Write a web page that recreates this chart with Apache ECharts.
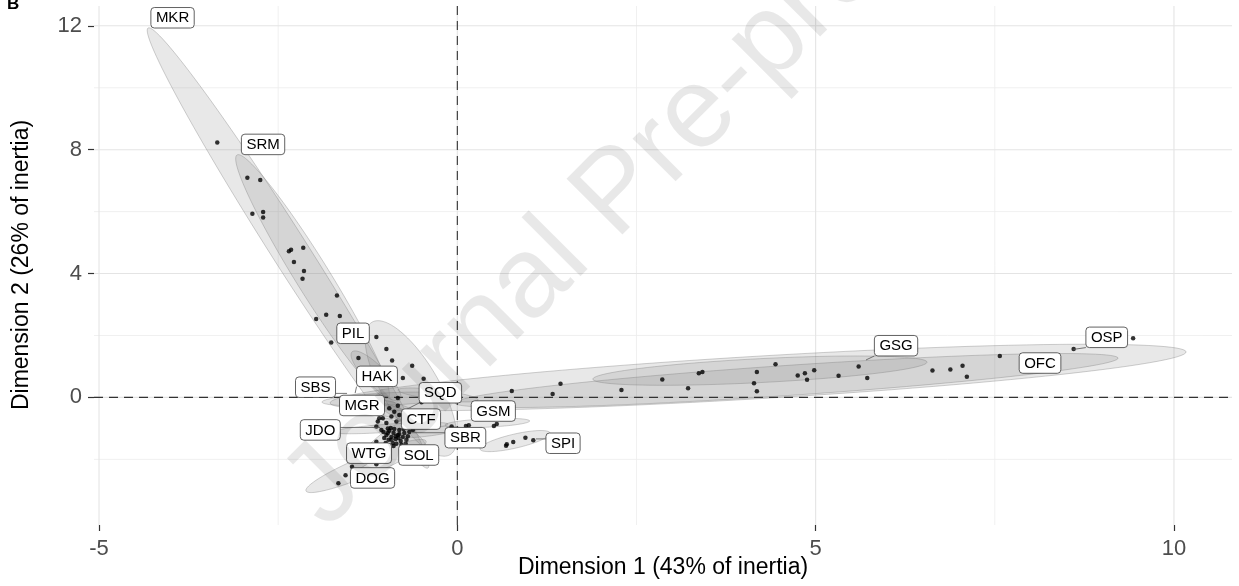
<!DOCTYPE html>
<html>
<head>
<meta charset="utf-8">
<script src="https://cdn.jsdelivr.net/npm/echarts@6/dist/echarts.min.js"></script>
<style>
  html, body { margin: 0; padding: 0; background: #fff; }
  #chart { width: 1239px; height: 586px; }
</style>
</head>
<body>
<div id="chart"></div>
<script>
// Individuals: coordinates on Dimension 1 and Dimension 2
const dim1 = [
  -3.35, -2.93, -2.75, -2.86, -2.71, -2.71, -2.35, -2.32, -2.15, -2.28, -2.14, -2.16,
  -1.68, -1.83, -1.64, -1.97, -1.76, -1.38, -1.13, -0.99, -0.91, -0.63, -0.76, -0.47,
  0.76, 1.33, 1.44, 2.29, 2.86, 3.22, 3.37, 3.42, 4.18, 4.14, 4.18, 4.44, 4.75, 4.85,
  4.88, 4.98, 5.32, 5.60, 5.72, 6.63, 6.88, 7.05, 7.11, 7.57, 8.60, 9.43,
  -0.08, 0.12, 0.16, 0.51, 0.55,
  0.69, 0.68, 0.78, 0.95, 1.06,
  -1.47, -1.56, -1.66, -1.13,
  -0.50, -0.83,
  -0.95, -0.88, -0.83, -0.81, -0.92, -1.04, -1.11, -0.99, -0.85, -1.13, -1.06, -0.97,
  -0.62, -1.13, -1.09,
  -1.03, -0.99, -0.95, -0.92, -0.89, -0.86, -0.83, -0.81, -0.79, -0.76, -0.74, -0.71,
  -0.96, -0.90, -0.85, -0.82, -0.78, -1.02, -0.93, -0.88, -0.75, -0.69, -0.67, -1.00,
  -0.89, -0.81, -0.72, -0.97, -0.86, -0.92
];
const dim2 = [
  8.23, 7.09, 7.02, 5.93, 5.99, 5.81, 4.72, 4.77, 4.83, 4.37, 4.08, 3.83,
  3.29, 2.67, 2.63, 2.53, 1.77, 1.27, 1.95, 1.56, 1.19, 1.02, 0.63, 0.60,
  0.21, 0.11, 0.44, 0.24, 0.58, 0.30, 0.78, 0.82, 0.82, 0.46, 0.20, 1.07, 0.71, 0.78,
  0.57, 0.88, 0.70, 1.00, 0.63, 0.87, 0.90, 1.02, 0.67, 1.34, 1.56, 1.91,
  -0.94, -0.92, -0.90, -0.92, -0.86,
  -1.51, -1.56, -1.44, -1.30, -1.38,
  -2.24, -2.51, -2.77, -2.16,
  -0.16, -0.02,
  -0.35, -0.46, -0.27, -0.57, -0.62, -0.67, -0.78, -0.83, -0.78, -0.94, -1.05, -1.00,
  -1.05, -1.43, -0.67,
  -1.12, -1.21, -1.08, -1.28, -1.15, -1.34, -1.21, -1.05, -1.41, -1.28, -1.15, -1.37,
  -1.37, -1.47, -1.50, -1.31, -1.53, -1.31, -0.99, -1.02, -1.02, -1.25, -1.12, -1.47,
  -1.57, -1.18, -1.50, -1.15, -1.25, -1.37
];

// Group labels: label centre and the point each label refers to
const groups  = ['MKR', 'SRM', 'PIL', 'HAK', 'SBS', 'MGR', 'SQD', 'CTF', 'JDO', 'GSM', 'SBR', 'SPI', 'WTG', 'SOL', 'DOG', 'GSG', 'OFC', 'OSP'];
const labelX  = [-3.974, -2.711, -1.455, -1.121, -1.979, -1.330, -0.237, -0.507, -1.912, 0.502, 0.112, 1.475, -1.232, -0.539, -1.183, 6.122, 8.131, 9.062];
const labelY  = [12.26, 8.17, 2.07, 0.68, 0.33, -0.26, 0.15, -0.70, -1.05, -0.44, -1.30, -1.48, -1.80, -1.86, -2.60, 1.67, 1.11, 1.94];
const anchorX = [-4.288, -3.032, -1.735, -1.426, -1.539, -1.000, -0.730, -0.855, -1.079, 0.735, -0.636, 1.098, -0.897, -0.730, -1.460, 5.703, 7.780, 8.596];
const anchorY = [11.90, 7.79, 1.79, 0.14, 0.13, -0.55, -0.41, -0.76, -0.97, -0.92, -1.14, -1.34, -1.31, -1.25, -2.24, 1.21, 1.14, 1.55];

// Confidence ellipses: both ends of the long axis and one end of the short axis
const ellipseGroups = ['MKR', 'OSP', 'OFC', 'SRM', 'PIL', 'GSG', 'HAK', 'DOG', 'SBS', 'JDO', 'GSM', 'SPI', 'WTG', 'SOL', 'CTF', 'MGR', 'SQD', 'SBR'];
const tipAX = [-4.316, -1.776, -0.032, -3.074, -1.190, 1.891, -1.469, -2.111, -1.888, -1.749, -0.172, 0.317, -1.469, -1.107, -1.107, -1.567, -0.828, -0.869];
const tipAY = [11.93, -0.18, -0.18, 7.83, 2.43, 0.59, 1.47, -3.02, -0.15, -1.12, -0.89, -1.67, -2.34, -0.73, -0.15, -0.02, 0.24, -1.25];
const tipBX = [-0.409, 10.169, 9.220, -0.967, -0.102, 6.554, -0.800, -0.437, -0.032, -0.130, 1.009, 1.294, -0.772, -0.451, -0.381, -0.520, 0.289, 0.038];
const tipBY = [-2.28, 1.47, 1.27, -0.02, -1.85, 1.14, -0.08, -1.41, 0.05, -0.86, -0.76, -1.15, -0.86, -1.63, -0.89, -0.73, -0.08, -0.99];
const sideX = [-2.150, 4.213, 4.608, -1.819, -0.310, 4.232, -1.035, -1.220, -0.956, -0.935, 0.424, 0.828, -1.055, -0.715, -0.705, -1.020, -0.278, -0.409];
const sideY = [5.14, -0.04, 0.06, 4.19, 0.75, 0.48, 0.92, -2.51, -0.25, -1.12, -0.96, -1.63, -1.77, -0.93, -0.31, -0.19, -0.08, -1.25];

// Axis breaks
const xTicks = [-5, 0, 5, 10];
const yTicks = [0, 4, 8, 12];
const xMinor = [-2.5, 2.5, 7.5];
const yMinor = [-2, 2, 6, 10];

const FONT = '"Liberation Sans", Arial, Helvetica, sans-serif';
const LABEL_FONT = '15px ' + FONT;
const measureCtx = document.createElement('canvas').getContext('2d');
measureCtx.font = LABEL_FONT;

// vertical / horizontal rules spanning the panel
function ruleSeries(values, vertical, style, z) {
  return {
    type: 'custom',
    z: z,
    silent: true,
    data: values.map(v => vertical ? [v, 0] : [0, v]),
    encode: { x: 0, y: 1 },
    renderItem: function (params, api) {
      const cs = params.coordSys;
      const p = api.coord([api.value(0), api.value(1)]);
      const shape = vertical
        ? { x1: p[0], y1: cs.y, x2: p[0], y2: cs.y + cs.height }
        : { x1: cs.x, y1: p[1], x2: cs.x + cs.width, y2: p[1] };
      return { type: 'line', shape: shape, style: style };
    }
  };
}

function renderEllipse(params, api) {
  const a = api.coord([api.value(0), api.value(1)]);
  const b = api.coord([api.value(2), api.value(3)]);
  const s = api.coord([api.value(4), api.value(5)]);
  const cx = (a[0] + b[0]) / 2, cy = (a[1] + b[1]) / 2;
  const ux = (b[0] - a[0]) / 2, uy = (b[1] - a[1]) / 2;
  const len = Math.hypot(ux, uy);
  const nx = -uy / len, ny = ux / len;
  const w = Math.abs((s[0] - cx) * nx + (s[1] - cy) * ny);
  const pts = [];
  const n = 120;
  for (let k = 0; k < n; k++) {
    const t = k / n * 2 * Math.PI;
    const c = Math.cos(t), sn = Math.sin(t);
    pts.push([cx + ux * c + nx * w * sn, cy + uy * c + ny * w * sn]);
  }
  return {
    type: 'polygon',
    shape: { points: pts },
    style: { fill: 'rgba(128,128,128,0.18)', stroke: 'rgba(120,120,120,0.35)', lineWidth: 1 }
  };
}

function renderLabel(params, api) {
  const text = groups[params.dataIndex];
  const c = api.coord([api.value(0), api.value(1)]);
  const a = api.coord([api.value(2), api.value(3)]);
  const tw = measureCtx.measureText(text).width;
  const w = tw + 10, h = 20.5;
  const x0 = c[0] - w / 2, y0 = c[1] - h / 2;
  const children = [];
  const nearX = Math.min(Math.max(a[0], x0), x0 + w);
  const nearY = Math.min(Math.max(a[1], y0), y0 + h);
  if (Math.hypot(a[0] - nearX, a[1] - nearY) > 5) {
    children.push({
      type: 'line',
      shape: { x1: nearX, y1: nearY, x2: a[0], y2: a[1] },
      style: { stroke: '#555', lineWidth: 0.8 }
    });
  }
  children.push({
    type: 'rect',
    shape: { x: x0, y: y0, width: w, height: h, r: 3.5 },
    style: { fill: '#ffffff', stroke: '#3a3a3a', lineWidth: 0.8 }
  });
  children.push({
    type: 'text',
    style: {
      text: text, x: c[0], y: c[1] + 0.5, font: LABEL_FONT, fill: '#000',
      align: 'center', verticalAlign: 'middle', textAlign: 'center', textVerticalAlign: 'middle'
    }
  });
  return { type: 'group', children: children };
}

const chart = echarts.init(document.getElementById('chart'), null, { renderer: 'canvas' });

const axisCommon = {
  type: 'value',
  axisLine: { show: true, onZero: false, lineStyle: { color: 'rgba(0,0,0,0)' } },
  splitLine: { show: false },
  minorSplitLine: { show: false }
};

const option = {
  animation: false,
  backgroundColor: '#ffffff',
  grid: { left: 94, right: 7, top: 6, bottom: 61, containLabel: false, outerBoundsMode: 'none' },
  xAxis: Object.assign({}, axisCommon, {
    min: -5.07, max: 10.81,
    axisTick: { show: true, customValues: xTicks, length: 6, lineStyle: { color: '#333', width: 1.2 } },
    axisLabel: { customValues: xTicks, fontSize: 22, color: '#4d4d4d', margin: 13, fontFamily: FONT }
  }),
  yAxis: Object.assign({}, axisCommon, {
    min: -4.12, max: 12.64,
    axisTick: { show: true, customValues: yTicks, length: 6, lineStyle: { color: '#333', width: 1.2 } },
    axisLabel: { customValues: yTicks, fontSize: 22, color: '#4d4d4d', margin: 12, fontFamily: FONT }
  }),
  graphic: [
    {
      type: 'text', x: 7, y: 13, z: 20, silent: true,
      style: {
        text: 'B', font: 'bold 17px ' + FONT, fill: '#000',
        align: 'left', verticalAlign: 'bottom', textAlign: 'left', textVerticalAlign: 'bottom'
      }
    },
    {
      type: 'text', x: 663, y: 568, z: 20, silent: true,
      style: {
        text: 'Dimension 1 (43% of inertia)', font: '23px ' + FONT, fill: '#000',
        align: 'center', verticalAlign: 'middle', textAlign: 'center', textVerticalAlign: 'middle'
      }
    },
    {
      type: 'text', x: 22, y: 265, rotation: Math.PI / 2, z: 20, silent: true,
      style: {
        text: 'Dimension 2 (26% of inertia)', font: '23px ' + FONT, fill: '#000',
        align: 'center', verticalAlign: 'middle', textAlign: 'center', textVerticalAlign: 'middle'
      }
    },
    {
      type: 'text', x: 304, y: 508, rotation: Math.PI / 4, z: 30, silent: true,
      style: {
        text: 'Journal Pre-proof', font: '115px ' + FONT, fill: 'rgba(0,0,0,0.09)',
        align: 'left', verticalAlign: 'middle', textAlign: 'left', textVerticalAlign: 'middle'
      }
    }
  ],
  series: [
    ruleSeries(xMinor, true, { stroke: '#ececec', lineWidth: 0.8 }, 1),
    ruleSeries(yMinor, false, { stroke: '#ececec', lineWidth: 0.8 }, 1),
    ruleSeries(xTicks, true, { stroke: '#e4e4e4', lineWidth: 1.1 }, 1),
    ruleSeries(yTicks, false, { stroke: '#e4e4e4', lineWidth: 1.1 }, 1),
    {
      type: 'custom',
      name: 'ellipses',
      z: 2,
      silent: true,
      data: ellipseGroups.map((g, i) => ({ name: g, value: [tipAX[i], tipAY[i], tipBX[i], tipBY[i], sideX[i], sideY[i]] })),
      encode: { x: [0, 2, 4], y: [1, 3, 5] },
      renderItem: renderEllipse
    },
    ruleSeries([0], true, { stroke: '#333', lineWidth: 1.1, lineDash: [9, 6] }, 3),
    ruleSeries([0], false, { stroke: '#333', lineWidth: 1.1, lineDash: [9, 6] }, 3),
    {
      type: 'scatter',
      name: 'individuals',
      z: 4,
      silent: true,
      symbolSize: 4.5,
      itemStyle: { color: '#000' },
      data: dim1.map((x, i) => [x, dim2[i]])
    },
    {
      type: 'custom',
      name: 'labels',
      z: 5,
      silent: true,
      data: groups.map((g, i) => ({ name: g, value: [labelX[i], labelY[i], anchorX[i], anchorY[i]] })),
      encode: { x: [0, 2], y: [1, 3] },
      renderItem: renderLabel
    }
  ]
};

chart.setOption(option);
</script>
</body>
</html>
